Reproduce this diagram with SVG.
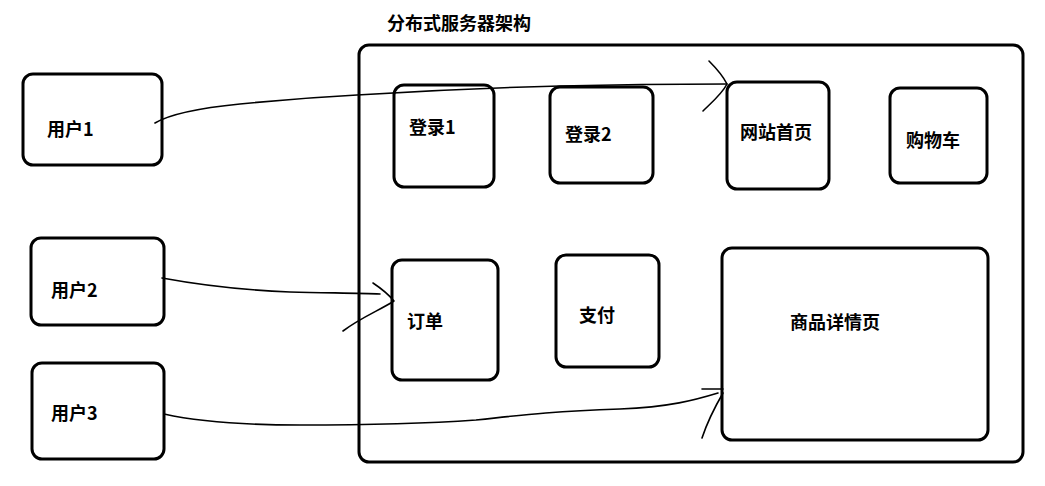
<svg xmlns="http://www.w3.org/2000/svg" width="1045" height="486" viewBox="0 0 1045 486">
<style>
.box{fill:#fff;stroke:#000;stroke-width:3}
.lbl{font-family:"Microsoft YaHei","Noto Sans CJK SC",sans-serif;font-weight:bold;font-size:18px;fill:#000}
.con{fill:none;stroke:#000;stroke-width:1.6;stroke-linecap:round;stroke-linejoin:round}
</style>
<rect width="1045" height="486" fill="#fff"/>
<g id="title"><text class="lbl" x="387" y="30">分布式服务器架构</text></g>
<g id="container"><rect class="box" x="359" y="45" width="664" height="417" rx="10"/></g>
<g id="user1"><rect class="box" x="23" y="74" width="139" height="91" rx="10"/><text class="lbl" x="47" y="136">用户1</text></g>
<g id="user2"><rect class="box" x="31" y="238" width="133" height="87" rx="10"/><text class="lbl" x="51" y="297">用户2</text></g>
<g id="user3"><rect class="box" x="32" y="363" width="132" height="96" rx="10"/><text class="lbl" x="51" y="420">用户3</text></g>
<g id="login1"><rect class="box" x="394" y="85" width="100" height="102" rx="10"/><text class="lbl" x="409" y="134">登录1</text></g>
<g id="login2"><rect class="box" x="550" y="87" width="103" height="96" rx="10"/><text class="lbl" x="565" y="141">登录2</text></g>
<g id="home"><rect class="box" x="727" y="82" width="102" height="107" rx="10"/><text class="lbl" x="740" y="139">网站首页</text></g>
<g id="cart"><rect class="box" x="890" y="88" width="97" height="95" rx="10"/><text class="lbl" x="906" y="147">购物车</text></g>
<g id="order"><rect class="box" x="392" y="260" width="106" height="120" rx="10"/><text class="lbl" x="407" y="328">订单</text></g>
<g id="pay"><rect class="box" x="556" y="255" width="103" height="112" rx="10"/><text class="lbl" x="579" y="322">支付</text></g>
<g id="detail"><rect class="box" x="722" y="248" width="266" height="192" rx="10"/><text class="lbl" x="790" y="329">商品详情页</text></g>
<g id="connectors">
<path class="con" d="M155,123 C170,114 200,108 240,104 C280,100 300,98 357,95 C420,91 480,88 560,86 C640,84 690,84 727,84"/>
<path class="con" d="M709,61 C716,68 723,76 727,84 C722,94 710,104 703,111"/>
<path class="con" d="M162,278 C200,285 240,290 290,292 C330,293 360,293 380,294"/>
<path class="con" d="M373,283 C382,289 389,295 394,301 C380,310 360,318 343,331"/>
<path class="con" d="M164,414 C200,422 240,425 300,425 C360,425 420,424 476,420 C530,414 560,411 620,409 C670,407 695,400 718,393"/>
<path class="con" d="M702,389 L723,389 M723,393 C716,405 708,420 702,438"/>
</g>
</svg>
